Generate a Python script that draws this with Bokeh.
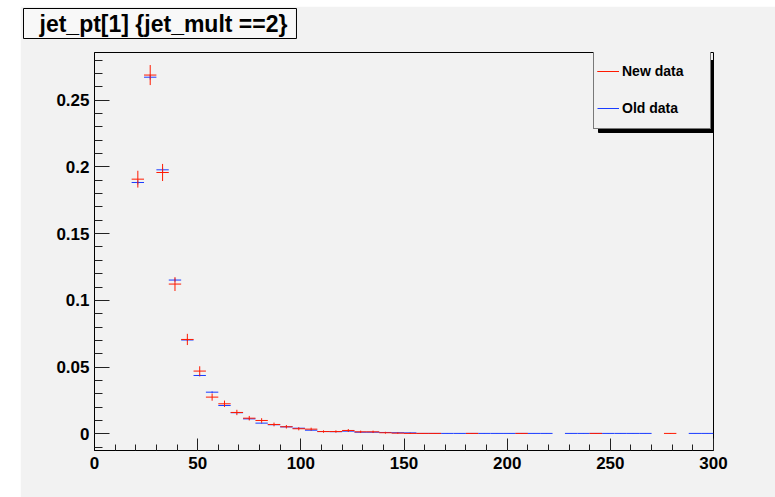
import numpy as np
from bokeh.plotting import figure
from bokeh.models import (Range1d, FixedTicker, CustomJSTickFormatter, Legend, LegendItem,
                          BoxAnnotation, Title, ColumnDataSource, LinearAxis)
from bokeh.embed import file_html
from bokeh.resources import INLINE

nan = float("nan")

# histogram binning: 50 bins of width 6 between 0 and 300
bin_low_edges = [0, 6, 12, 18, 24, 30, 36, 42, 48, 54, 60, 66, 72, 78, 84, 90, 96, 102, 108, 114,
                 120, 126, 132, 138, 144, 150, 156, 162, 168, 174, 180, 186, 192, 198, 204, 210,
                 216, 222, 228, 234, 240, 246, 252, 258, 264, 270, 276, 282, 288, 294]
bin_width = 6

new_data = [nan, nan, nan, 0.1908, 0.2688, 0.1958, 0.1122, 0.0707, 0.0470, 0.0275,
            0.0225, 0.0160, 0.0117, 0.0100, 0.0070, 0.0053, 0.0038, 0.0035, 0.0017, 0.0017,
            0.0025, 0.0015, 0.0015, 0.0008, 0.0005, 0.0003, 0.0003, 0.0003, nan, nan,
            0.0003, nan, nan, nan, 0.0003, nan, nan, nan, nan, nan,
            0.0003, nan, nan, nan, nan, nan, 0.0003, nan, nan, nan]
new_err = [nan, nan, nan, 0.0063, 0.0075, 0.0064, 0.0052, 0.0042, 0.0036, 0.0027,
           0.0024, 0.0020, 0.0017, 0.0017, 0.0014, 0.0013, 0.0012, 0.0011, 0.0009, 0.0009,
           0.0011, 0.0009, 0.0009, 0.0007, 0.0005, 0.0004, 0.0003, 0.0003, nan, nan,
           0.0003, nan, nan, nan, 0.0003, nan, nan, nan, nan, nan,
           0.0003, nan, nan, nan, nan, nan, 0.0003, nan, nan, nan]

old_data = [nan, nan, nan, 0.1883, 0.2672, 0.1978, 0.1152, 0.0703, 0.0437, 0.0312,
            0.0212, 0.0158, 0.0112, 0.0080, 0.0068, 0.0052, 0.0042, 0.0027, 0.0017, 0.0016,
            0.0020, 0.0012, 0.0012, 0.0010, 0.0008, 0.0007, 0.0003, 0.0003, 0.0003, 0.0003,
            0.0003, 0.0003, 0.0003, 0.0003, 0.0003, 0.0003, 0.0003, nan, 0.0003, 0.0003,
            0.0003, 0.0003, 0.0003, 0.0003, 0.0003, nan, nan, nan, 0.0003, 0.0003]
old_err = [nan, nan, nan, 0.0015, 0.0018, 0.0015, 0.0012, 0.0009, 0.0007, 0.0006,
           0.0005, 0.0004, 0.0004, 0.0003, 0.0003, 0.0002, 0.0002, 0.0002, 0.0002, 0.0002,
           0.0002, 0.0002, 0.0002, 0.0001, 0.0001, 0.0001, 0.0001, 0.0001, 0.0001, 0.0001,
           0.0001, 0.0001, 0.0001, 0.0001, 0.0001, 0.0001, 0.0001, nan, 0.0001, 0.0001,
           0.0001, 0.0001, 0.0001, 0.0001, 0.0001, nan, nan, nan, 0.0001, 0.0001]

title_text = "jet_pt[1] {jet_mult ==2}"
series_names = ["New data", "Old data"]
x_major = [0, 50, 100, 150, 200, 250, 300]
x_minor = [0, 10, 20, 30, 40, 50, 60, 70, 80, 90, 100, 110, 120, 130, 140, 150, 160, 170, 180,
           190, 200, 210, 220, 230, 240, 250, 260, 270, 280, 290, 300]
y_major = [0, 0.05, 0.1, 0.15, 0.2, 0.25]
y_minor = [-0.01, 0, 0.01, 0.02, 0.03, 0.04, 0.05, 0.06, 0.07, 0.08, 0.09, 0.1, 0.11, 0.12, 0.13,
           0.14, 0.15, 0.16, 0.17, 0.18, 0.19, 0.2, 0.21, 0.22, 0.23, 0.24, 0.25, 0.26, 0.27, 0.28]

BG = "#f2f2f2"
RED = "#ff1a00"
BLUE = "#1a3cff"
FONT = "Liberation Sans"

lo = np.array(bin_low_edges, dtype=float)
hi = lo + bin_width
xc = lo + bin_width / 2.0


def make_source(vals, errs):
    v = np.array(vals, dtype=float)
    e = np.array(errs, dtype=float)
    return ColumnDataSource(dict(lo=lo, hi=hi, xc=xc, v=v, vlo=v - e, vhi=v + e))


title = Title(text=title_text, align="left", offset=-71, standoff=0, vertical_align="top",
              text_font=FONT, text_font_style="bold", text_font_size="23px",
              text_color="black", background_fill_color="#f8f8f8",
              border_line_color="black", border_line_width=1,
              padding=dict(left=16, right=9, top=2, bottom=2))

p = figure(width=755, height=491, output_backend="svg", toolbar_location=None,
           x_range=Range1d(0, 300), y_range=Range1d(-0.0125, 0.2857), title=title,
           min_border_left=74, min_border_right=62, min_border_top=46, min_border_bottom=47)
p.margin = (6, 0, 0, 20)
p.background_fill_color = BG
p.border_fill_color = BG
p.outline_line_color = "black"
p.outline_line_width = 1
p.xgrid.visible = False
p.ygrid.visible = False

src_old = make_source(old_data, old_err)
src_new = make_source(new_data, new_err)

r_old_h = p.segment(x0="lo", x1="hi", y0="v", y1="v", source=src_old, line_color=BLUE, line_width=1)
r_old_v = p.segment(x0="xc", x1="xc", y0="vlo", y1="vhi", source=src_old, line_color=BLUE, line_width=1)
r_new_h = p.segment(x0="lo", x1="hi", y0="v", y1="v", source=src_new, line_color=RED, line_width=1)
r_new_v = p.segment(x0="xc", x1="xc", y0="vlo", y1="vhi", source=src_new, line_color=RED, line_width=1)

fmt = CustomJSTickFormatter(code="return String(+tick.toFixed(3));")
for ax, major, minor, tin, min_in, standoff in (
        (p.below[0], x_major, x_minor, 12, 6, 6),
        (p.left[0], y_major, y_minor, 15, 8, 5)):
    ax.ticker = FixedTicker(ticks=major, minor_ticks=minor)
    ax.formatter = fmt
    ax.major_tick_in = tin
    ax.major_tick_out = 0
    ax.minor_tick_in = min_in
    ax.minor_tick_out = 0
    ax.major_tick_line_color = "#222222"
    ax.minor_tick_line_color = "#222222"
    ax.axis_line_color = "black"
    ax.major_label_text_font = FONT
    ax.major_label_text_font_style = "bold"
    ax.major_label_text_font_size = "17px"
    ax.major_label_text_color = "black"
    ax.major_label_standoff = standoff

# invisible spacer axis above the frame: lifts the title box towards the top edge
spacer = LinearAxis(ticker=FixedTicker(ticks=[150], minor_ticks=[]),
                    major_tick_in=0, major_tick_out=12, minor_tick_in=0, minor_tick_out=0,
                    major_label_standoff=0, major_label_text_font_size="1px",
                    major_label_overrides={150: ""},
                    axis_line_alpha=0, major_tick_line_alpha=0, minor_tick_line_alpha=0)
p.add_layout(spacer, "above")

# legend shadow (kept inside the frame, legend shifted 4px left)
p.add_layout(BoxAnnotation(left=578, right=693, top=54, bottom=126,
                           left_units="canvas", right_units="canvas",
                           top_units="canvas", bottom_units="canvas",
                           fill_color="black", fill_alpha=1, line_color="black", line_alpha=1))

legend = Legend(items=[LegendItem(label=series_names[0], renderers=[r_new_h, r_new_v], index=4),
                       LegendItem(label=series_names[1], renderers=[r_old_h], index=4)],
                location=(499, 321), margin=0, padding=3, spacing=3,
                label_height=34, glyph_height=34, glyph_width=22, label_standoff=3,
                label_width=85, border_line_color="black", border_line_width=1,
                background_fill_color=BG, background_fill_alpha=1,
                label_text_font=FONT, label_text_font_style="bold",
                label_text_font_size="14px", label_text_color="black")
p.add_layout(legend)

open("out.html", "w").write(file_html(p, INLINE))
